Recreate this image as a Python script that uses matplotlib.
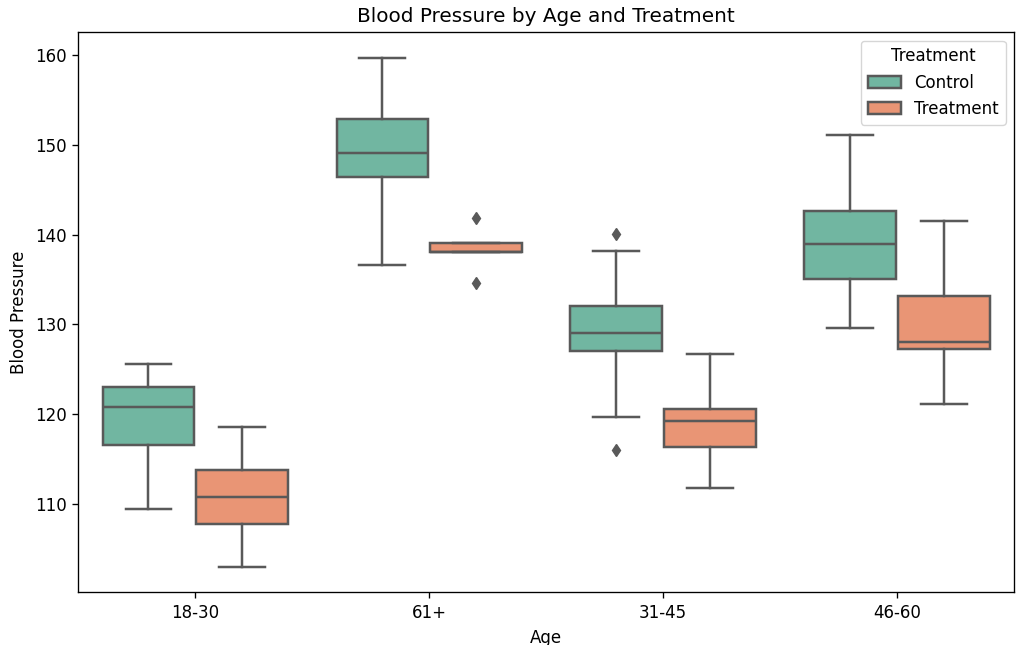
import matplotlib
matplotlib.use("Agg")
import matplotlib.pyplot as plt
from matplotlib.patches import Patch

ages = ["18-30", "61+", "31-45", "46-60"]
groups = ["Control", "Treatment"]

# box statistics: [whislo, q1, med, q3, whishi]
control_stats = [
    [109.4, 116.5, 120.8, 123.0, 125.6],
    [136.6, 146.4, 149.1, 152.9, 159.7],
    [119.7, 127.0, 129.0, 132.0, 138.2],
    [129.6, 135.0, 138.9, 142.6, 151.1],
]
treatment_stats = [
    [102.9, 107.7, 110.7, 113.8, 118.6],
    [138.1, 138.1, 138.1, 139.1, 139.1],
    [111.7, 116.3, 119.2, 120.5, 126.7],
    [121.1, 127.3, 128.0, 133.2, 141.5],
]
control_fliers = [[], [], [140.1, 116.0], []]
treatment_fliers = [[], [141.9, 134.6], [], []]

colors = ["#71b6a1", "#e99575"]
gray = "#595959"

s = 1.2
plt.rcParams.update({
    "font.size": 10 * s,
    "axes.linewidth": 0.8 * s,
    "xtick.major.size": 3.5 * s,
    "ytick.major.size": 3.5 * s,
    "xtick.major.width": 0.8 * s,
    "ytick.major.width": 0.8 * s,
    "xtick.major.pad": 3.5 * s,
    "ytick.major.pad": 3.5 * s,
    "axes.labelpad": 4 * s,
    "axes.titlepad": 6 * s,
})

fig = plt.figure(figsize=(10.23, 6.45), dpi=100)
ax = fig.add_axes([0.0765, 0.0817, 0.9147, 0.8682])

lw = 1.5 * s
width = 0.392
for gi, (stats, fliers) in enumerate([(control_stats, control_fliers),
                                      (treatment_stats, treatment_fliers)]):
    bxs = []
    for st, f in zip(stats, fliers):
        bxs.append(dict(whislo=st[0], q1=st[1], med=st[2], q3=st[3], whishi=st[4],
                        fliers=f))
    pos = [i + (-0.2 if gi == 0 else 0.2) for i in range(len(ages))]
    ax.bxp(bxs, positions=pos, widths=width, patch_artist=True,
           showfliers=True, manage_ticks=False,
           boxprops=dict(facecolor=colors[gi], edgecolor=gray, linewidth=lw),
           medianprops=dict(color=gray, linewidth=lw),
           whiskerprops=dict(color=gray, linewidth=lw),
           capprops=dict(color=gray, linewidth=lw),
           flierprops=dict(marker="d", markerfacecolor=gray, markeredgecolor=gray,
                           markersize=5 * s, linestyle="none"))

ax.set_xticks(range(len(ages)))
ax.set_xticklabels(ages)
ax.set_xlim(-0.5, 3.5)
ax.set_ylim(100.12, 162.55)
ax.set_yticks([110, 120, 130, 140, 150, 160])
ax.set_xlabel("Age")
ax.set_ylabel("Blood Pressure")
ax.set_title("Blood Pressure by Age and Treatment", fontsize=12 * s)

handles = [Patch(facecolor=colors[i], edgecolor=gray, linewidth=lw, label=g)
           for i, g in enumerate(groups)]
ax.legend(handles=handles, title="Treatment", loc="upper right")

fig.savefig("out.png", dpi=100)
